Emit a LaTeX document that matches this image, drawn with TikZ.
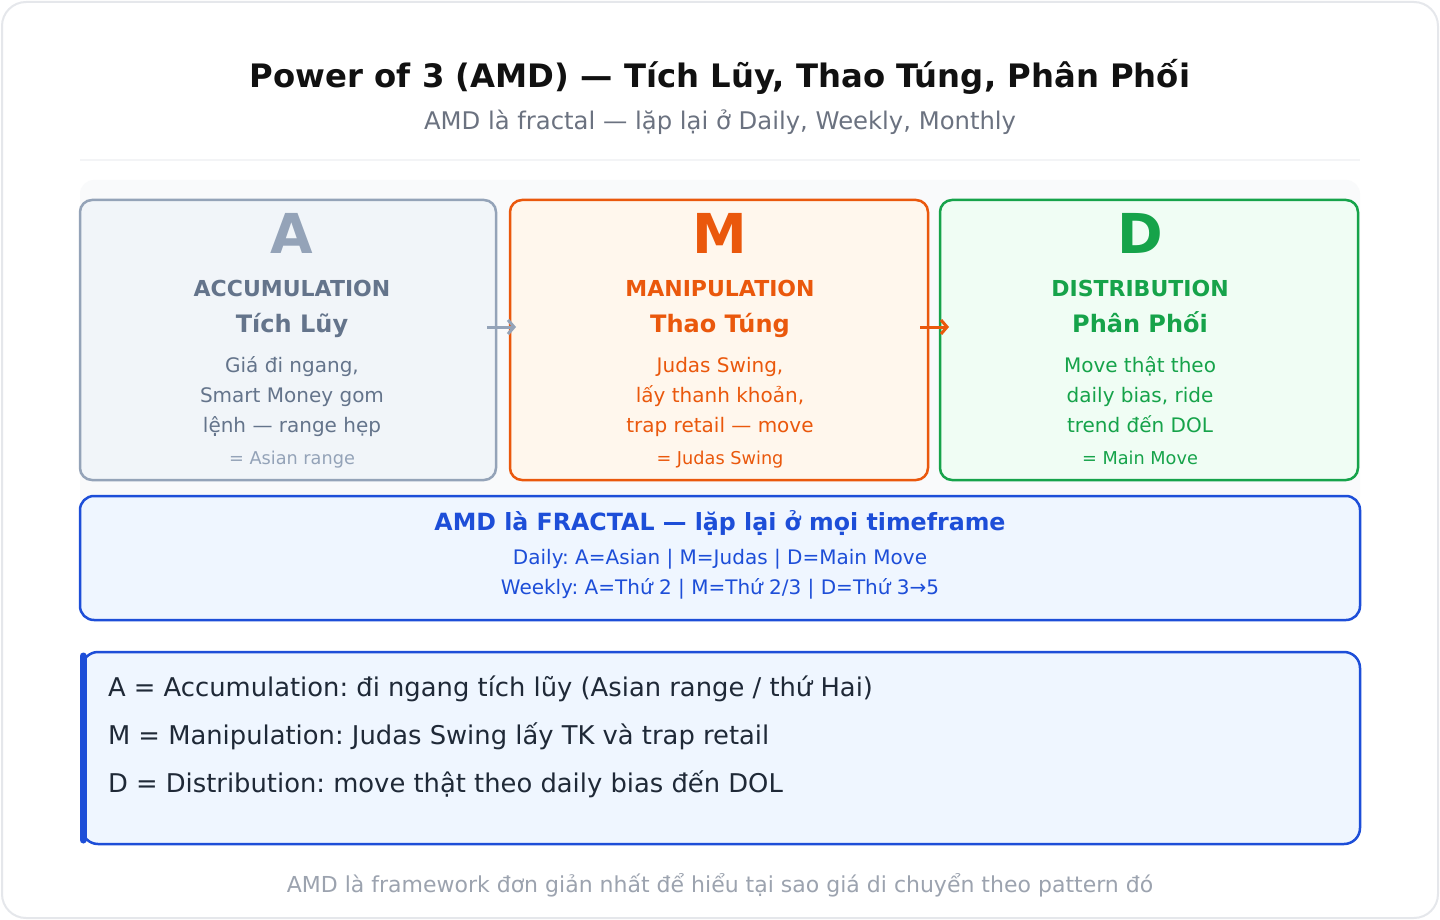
\documentclass[tikz,border=0pt]{standalone}
\usepackage{fontspec}
\setmainfont{DejaVu Sans}
\usetikzlibrary{arrows.meta}
\definecolor{cborder}{HTML}{E5E7EB}
\definecolor{csep}{HTML}{F3F4F6}
\definecolor{cpanel}{HTML}{F9FAFB}
\definecolor{ctitle}{HTML}{111111}
\definecolor{csub}{HTML}{6B7280}
\definecolor{cfoot}{HTML}{9CA3AF}
\definecolor{aline}{HTML}{94A3B8}
\definecolor{atext}{HTML}{64748B}
\definecolor{afill}{HTML}{F1F5F9}
\definecolor{mline}{HTML}{EA580C}
\definecolor{mfill}{HTML}{FFF7ED}
\definecolor{dline}{HTML}{16A34A}
\definecolor{dfill}{HTML}{F0FDF4}
\definecolor{bline}{HTML}{1D4ED8}
\definecolor{bfill}{HTML}{EFF6FF}
\definecolor{btext}{HTML}{1F2937}
\newcommand{\fs}[1]{\fontsize{#1}{#1}\selectfont}
\frenchspacing
\tikzset{
  card/.style={rounded corners=12pt, line width=2.5pt},
  txt/.style={anchor=base, inner sep=0pt, outer sep=0pt},
  big/.style={txt, font=\fs{55}\bfseries},
  head/.style={txt, font=\fs{22}\bfseries},
  vn/.style={txt, font=\fs{24}\bfseries},
  desc/.style={txt, font=\fs{20}},
  note/.style={txt, font=\fs{17.7}},
  flow/.style={line width=3pt, -{Straight Barb[length=6pt,width=14pt,line width=3pt]}},
}
\begin{document}
\begin{tikzpicture}[x=1pt,y=-1pt]
\useasboundingbox (0,0) rectangle (1440,920);
\draw[cborder, line width=2pt, fill=white, rounded corners=24pt] (2,2) rectangle (1438,918);
\node[txt, font=\fs{32.3}\bfseries, text=ctitle] (title) at (720,88) {Power of 3 (AMD) — Tích Lũy, Thao Túng, Phân Phối};
\node[txt, font=\fs{24.3}, text=csub] (subtitle) at (720,130) {AMD là fractal — lặp lại ở Daily, Weekly, Monthly};
\draw[csep, line width=2.5pt] (80,160) -- (1360,160);
\fill[cpanel, rounded corners=14pt] (80,180) rectangle (1360,510);
% cards
\draw[card, aline, fill=afill] (80,200) rectangle (496,480);
\node[big, text=aline] (Aletter) at (292,253) {A};
\node[head, text=atext] (Ahead) at (292,296) {ACCUMULATION};
\node[vn, text=atext] (Avn) at (292,332) {Tích Lũy};
\node[desc, text=atext] (Ad1) at (292,372) {Giá đi ngang,};
\node[desc, text=atext] (Ad2) at (292,402) {Smart Money gom};
\node[desc, text=atext] (Ad3) at (292,432) {lệnh — range hẹp};
\node[note, text=aline] (An) at (292,464) {= Asian range};

\draw[card, mline, fill=mfill] (510,200) rectangle (928,480);
\node[big, text=mline] (Mletter) at (720,253) {M};
\node[head, text=mline] (Mhead) at (720,296) {MANIPULATION};
\node[vn, text=mline] (Mvn) at (720,332) {Thao Túng};
\node[desc, text=mline] (Md1) at (720,372) {Judas Swing,};
\node[desc, text=mline] (Md2) at (720,402) {lấy thanh khoản,};
\node[desc, text=mline] (Md3) at (720,432) {trap retail — move};
\node[note, text=mline] (Mn) at (720,464) {= Judas Swing};

\draw[card, dline, fill=dfill] (940,200) rectangle (1358,480);
\node[big, text=dline] (Dletter) at (1140,253) {D};
\node[head, text=dline] (Dhead) at (1140,296) {DISTRIBUTION};
\node[vn, text=dline] (Dvn) at (1140,332) {Phân Phối};
\node[desc, text=dline] (Dd1) at (1140,372) {Move thật theo};
\node[desc, text=dline] (Dd2) at (1140,402) {daily bias, ride};
\node[desc, text=dline] (Dd3) at (1140,432) {trend đến DOL};
\node[note, text=dline] (Dn) at (1140,464) {= Main Move};

\coordinate (a1s) at (487,327); \coordinate (a1e) at (516,327);
\coordinate (a2s) at (920,327); \coordinate (a2e) at (949,327);
\draw[flow, aline] (a1s) -- (a1e);
\draw[flow, mline] (a2s) -- (a2e);

% fractal box
\draw[card, rounded corners=14pt, bline, fill=bfill] (80,496) rectangle (1360,620);
\node[txt, font=\fs{23.7}\bfseries, text=bline] (ftitle) at (720,530) {AMD là FRACTAL — lặp lại ở mọi timeframe};
\node[desc, text=bline] (f1) at (720,564) {Daily: A=Asian | M=Judas | D=Main Move};
\node[desc, text=bline] (f2) at (720,594) {Weekly: A=Thứ 2 | M=Thứ 2/3 | D=Thứ 3→5};

% summary box
\draw[card, rounded corners=16pt, bline, fill=bfill] (82,652) rectangle (1360,844);
\draw[bline, line width=7pt, line cap=round] (83,656) -- (83,840);
\node[txt, anchor=base west, font=\fs{25.8}, text=btext] (s1) at (108,696) {A = Accumulation: đi ngang tích lũy (Asian range / thứ Hai)};
\node[txt, anchor=base west, font=\fs{25.8}, text=btext] (s2) at (108,744) {M = Manipulation: Judas Swing lấy TK và trap retail};
\node[txt, anchor=base west, font=\fs{25.8}, text=btext] (s3) at (108,792) {D = Distribution: move thật theo daily bias đến DOL};

\node[txt, font=\fs{22}, text=cfoot] (footer) at (720,892) {AMD là framework đơn giản nhất để hiểu tại sao giá di chuyển theo pattern đó};
\end{tikzpicture}
\end{document}
